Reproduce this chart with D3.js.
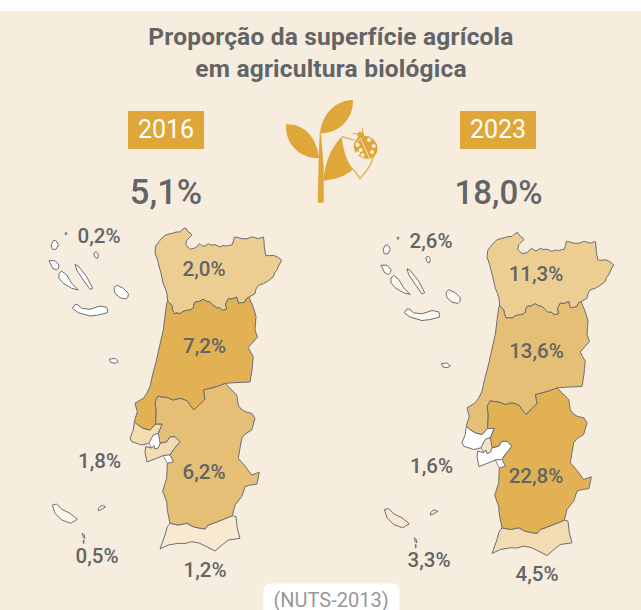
<!DOCTYPE html>
<html>
<head>
<meta charset="utf-8">
<script src="https://cdn.jsdelivr.net/npm/d3@7"></script>
<style>
  html, body { margin: 0; padding: 0; background: #ffffff; }
  svg { display: block; }
  text { font-family: Roboto, sans-serif; }
</style>
</head>
<body>
<div id="chart"></div>
<script>
var titleLines = ["Proporção da superfície agrícola", "em agricultura biológica"];
var years = ["2016", "2023"];
var nationalValues = [5.1, 18.0];
var regionNames = ["Açores", "Madeira", "Algarve", "Lisboa", "Norte", "Alentejo", "Centro"];
var values2016 = [0.2, 0.5, 1.2, 1.8, 2.0, 6.2, 7.2];
var values2023 = [2.6, 3.3, 4.5, 1.6, 11.3, 22.8, 13.6];
var footnote = "(NUTS-2013)";

// one colour per rank inside each map, lowest value first
var palette = ["#ffffff", "#fdf8ef", "#f8e9d0", "#f3dcb2", "#ecce92", "#e5bf76", "#e2b154"];

// Map outlines, in map units. Shared borders are kept
// apart so that neighbouring regions meet exactly.
var borderNorteCentro = [[167.7,301.3],[169.5,303],[171.7,305.3],[172.5,310],[174.3,313.7],[177,313],[180,313.7],[183,311.5],[186.7,310.3],[190,310],[193.3,308],[194,304],[195,302],[199,301.5],[203.3,299.3],[207,301.5],[210,302],[213,305],[216.7,308],[219,307.5],[222.3,310.3],[226.7,309.3],[225.5,304],[228.3,298.7],[232,299],[236.7,297],[238.3,303],[241.5,303],[245,302],[246,299],[249,297]];
var coastNorte = [[255,293.7],[256,289],[258.3,285.3],[263.3,283.7],[268,281],[273.3,277],[274.5,273],[276.7,270.3],[279,265],[281.7,260.3],[277.5,257],[273.3,255.3],[269,255.8],[265.7,255.3],[265,251],[264.3,247],[264,241],[263.3,237],[258.3,238.7],[255,237.5],[251.7,237],[247,238.8],[241.7,238.7],[238,237.5],[234.3,237],[233.5,241],[232.3,244.7],[226.7,246],[223,245.5],[220,247],[215,244.7],[211,245],[208.3,243.7],[205,246],[202.3,246],[200,243.7],[195,248],[190,249.3],[185.7,244.7],[186.7,240.3],[191.7,235.3],[190.5,233],[188.3,232],[185.7,228],[183,229],[180,232],[176,232],[173.3,233],[169,234],[165,235.3],[162,238],[160,240.3],[155.7,246],[155,252.7],[157.7,260.3],[159,266],[160.7,272],[162,278],[163.3,283.7],[165.5,289],[167,293.7]];
var eastCentro = [[250.5,301],[252,304],[254.5,311],[256,316.7],[255.5,323],[255,330],[257.5,337],[253,342],[248.3,347.5],[250.5,352],[253.3,356.7],[252.5,364],[252,370],[250,382],[238,382.5],[225,383.3]];
var borderCentroAlentejo = [[218.3,386],[211,388],[203.3,390],[205,399],[200,404],[194,409.8],[190,405],[187.5,401],[183,399],[180,398.3],[173.3,400],[166.7,397.3],[162,397],[158.3,396],[155,401.7],[156,410],[155.5,424]];
var borderCentroLisboa = [[150,430],[143.3,428.3],[138,425],[134.3,421.7]];
var coastCentro = [[136,416],[137.3,411.7],[136,407],[135,403.3],[143.3,398.3],[147,393],[150,386.7],[153.3,371.7],[155,366],[157,358],[158.3,351.7],[161,340],[163.3,330],[165,316],[166.7,303.3]];
var borderLisboaAlentejo = [[162.3,424],[158.3,433.3],[160,443.3]];
var borderSetubalAlentejo = [[166.7,441.7],[170,436.7],[175,436.7],[180,441.7],[173.3,450],[170,455]];
var eastAlentejo = [[236.7,395],[238.3,405],[241,409],[245,411.7],[252,413.5],[255,418.3],[251.7,430],[245,434],[241.7,438.3],[240,448.3],[238.3,458.3],[245,466],[251.7,475],[259.3,472.3],[258,479],[256.7,484.3],[250,485],[245,486.7],[241.7,496.7],[235,505],[232.3,515.7]];
var borderAlentejoAlgarve = [[221.7,520],[214,523],[208.3,525],[205,529],[199,528],[193.3,526.7],[186.7,523.3],[178.3,525],[170,523.3]];

var shapes = {
  "Norte": [borderNorteCentro.concat(coastNorte)],
  "Centro": [borderNorteCentro.concat(eastCentro, borderCentroAlentejo, borderCentroLisboa, coastCentro)],
  "Alentejo": [[[225,383.3]].concat(borderCentroAlentejo, borderLisboaAlentejo, borderSetubalAlentejo,
    [[173.3,461.7],[167.3,463.3],[167,471],[166.7,478.3],[162.7,491],[166.7,501.7],[167.3,510]],
    borderAlentejoAlgarve.slice().reverse(), [[232.3,515.7]], eastAlentejo.slice().reverse())],
  "Algarve": [borderAlentejoAlgarve.concat([[167.3,526.7],[165,535],[160,549],[168.3,545],[178.3,543.3],[185,543.5],[191.7,541.7],[199,543],[206.7,546.7],[215,551],[222,545],[228.3,540],[240,538.3],[237.3,528.3],[236,516.7],[232.3,515.7]])],
  "Lisboa": [
    [[155.5,424]].concat(borderCentroLisboa, [[133.3,430],[130,438.3],[131.7,441.7],[141.7,445],[149,443.3],[153.3,435],[158.3,433.3],[162.3,424]]),
    [[145.7,446.7],[152,448],[154,445.5],[155,449],[158.3,447.7],[160,443.3]].concat(borderSetubalAlentejo, [[163.3,455.5],[156.7,458.3],[147,462],[145,452]])
  ],
  "Açores": [
    [[65,233],[66.5,232.5],[67,234],[65.5,235]],
    [[51,245],[53.3,240.7],[55.5,240.5],[57,242],[58.3,245],[56,249.3],[52.3,249.3]],
    [[93.7,253.3],[96,251.7],[97.5,253],[98.3,255],[97.7,258.3],[95.3,257.7]],
    [[49,260.7],[55,260.7],[59,265],[58.5,268],[56.7,270],[52.7,268.3]],
    [[59,273.3],[61.7,271],[66.7,275],[71.7,283.3],[78.3,290],[71.7,288.3],[63.3,283.3],[59,278.3]],
    [[75,264.3],[78.3,266],[86.7,276.7],[92.7,288.3],[90,289.3],[83.3,280],[76.7,270]],
    [[114,288.3],[115.5,286],[117.3,285.3],[123.3,288.3],[128.3,293.3],[128,297],[126,299],[120,297.7],[115,293.3]],
    [[72.3,308.3],[75,304.3],[78,305],[81.7,308.3],[90,309.3],[100,306],[106.7,307.3],[107.5,310],[107.3,312.7],[98.3,315],[90,316],[78.3,312.7]],
    [[109.3,359.3],[115,358.3],[118.3,361.7],[115,363.3],[110.7,362.3]]
  ],
  "Madeira": [
    [[52.3,505],[56.7,504],[61.7,509.3],[70,513.3],[77.3,519.3],[70.7,523.3],[61.7,520],[55,513.3]],
    [[98.3,508.3],[101.7,505.3],[105.7,506.7],[101.7,509.3],[98.7,510.7]],
    [[82.3,533.3],[84.3,535],[85,538.3],[83.3,537.3]],
    [[83.3,540],[84,540],[84,543.3],[83.3,543.3]]
  ]
};

// water inside the Lisboa region: the Tejo fill changes from map to map, the Sado does not
var tejoOutline = [[153.3,435],[158.3,433.3],[160,443.3],[158.3,447.7],[155,449],[154,445.5],[152,448],[149,443.3]];
var sadoOutline = [[163.3,455.5],[170,455],[173.3,461.7],[167.3,463.3]];
var tejoFill = ["#ffffff", "#f3e3c8"];
var sadoFill = ["#ffffff", "#ffffff"];

// where each value label sits, in the same map units
var labelSpots = [[99,243.3],[97,562.7],[205,576.7],[99.5,468.3],[204,276],[204,478.7],[204.5,353.3]];

var width = 641;
var height = 610;
var inkColor = "#636466";
var goldColor = "#dfa73a";
var panelOffsets = [[0, 0], [332, 4.5]];
var panelCenters = [166, 498];

var formatPct = d3.formatLocale({ decimal: ",", thousands: ".", grouping: [3], currency: ["", ""] }).format(".1f");

var svg = d3.select("#chart").append("svg")
    .attr("width", width)
    .attr("height", height);

svg.append("rect")
    .attr("x", 0)
    .attr("y", 11)
    .attr("width", width)
    .attr("height", height - 11)
    .attr("fill", "#f6eddf");

svg.selectAll(".title")
    .data(titleLines)
    .enter()
    .append("text")
    .attr("class", "title")
    .attr("x", 331)
    .attr("y", (d, i) => 45 + i * 32)
    .attr("text-anchor", "middle")
    .attr("font-size", 24.5)
    .attr("font-weight", 700)
    .attr("letter-spacing", 0.2)
    .attr("fill", inkColor)
    .text(d => d);

function feature(name, rings) {
    return {
        type: "Feature",
        properties: { name: name },
        geometry: { type: "MultiPolygon", coordinates: rings.map(r => [r.concat([r[0]])]) }
    };
}

function drawPanel(i, values) {
    var g = svg.append("g").attr("class", "panel-" + years[i]);
    var cx = panelCenters[i];

    g.append("rect")
        .attr("x", cx - 38)
        .attr("y", 111)
        .attr("width", 76)
        .attr("height", 38)
        .attr("fill", goldColor);
    g.append("text")
        .attr("x", cx)
        .attr("y", 138)
        .attr("text-anchor", "middle")
        .attr("font-size", 25)
        .attr("font-weight", 400)
        .attr("fill", "#ffffff")
        .text(years[i]);
    g.append("text")
        .attr("x", cx + (i ? 0.5 : 0))
        .attr("y", 204)
        .attr("text-anchor", "middle")
        .attr("font-size", i ? 33 : 34.5)
        .attr("font-weight", 500)
        .attr("fill", inkColor)
        .text(formatPct(nationalValues[i]) + "%");

    var projection = d3.geoIdentity().translate(panelOffsets[i]);
    var path = d3.geoPath(projection);

    var color = d3.scaleOrdinal()
        .domain(d3.sort(values))
        .range(palette);

    var rows = regionNames.map((name, k) => ({ name: name, value: values[k], spot: labelSpots[k] }));

    g.selectAll(".region")
        .data(rows)
        .enter()
        .append("path")
        .attr("class", "region")
        .attr("d", d => path(feature(d.name, shapes[d.name])))
        .attr("fill", d => color(d.value))
        .attr("stroke", "#6d6e71")
        .attr("stroke-width", 1)
        .attr("stroke-linejoin", "round");

    g.selectAll(".water")
        .data([[tejoOutline, tejoFill[i]], [sadoOutline, sadoFill[i]]])
        .enter()
        .append("path")
        .attr("class", "water")
        .attr("d", d => path(feature("water", [d[0]])))
        .attr("fill", d => d[1])
        .attr("stroke", "#6d6e71")
        .attr("stroke-width", 0.8);

    g.selectAll(".value")
        .data(rows)
        .enter()
        .append("text")
        .attr("class", "value")
        .attr("x", d => projection(d.spot)[0])
        .attr("y", d => projection(d.spot)[1])
        .attr("text-anchor", "middle")
        .attr("font-size", 20.5)
        .attr("font-weight", 500)
        .attr("fill", inkColor)
        .text(d => formatPct(d.value) + "%");
}

drawPanel(0, values2016);
drawPanel(1, values2023);

// plant and ladybird, drawn at 3x and scaled down
var icon = svg.append("g")
    .attr("transform", "translate(270,90) scale(0.3333)")
    .attr("fill", goldColor);
icon.append("path").attr("d", "M143,338 L161,338 L161,230 L153,130 L149,130 L146,210 Z");
icon.append("path").attr("d", "M48,103 C100,100 140,140 147,205 C90,205 45,165 48,103 Z");
icon.append("path").attr("d", "M150,130 C155,70 200,30 249,30 C250,90 205,130 150,130 Z");
icon.append("path").attr("d", "M160,272 C165,215 185,170 215,140 C220,180 230,215 250,238 C225,260 190,270 160,272 Z");
icon.append("path")
    .attr("d", "M215,140 L252,150 M250,238 L270,266 C290,245 305,225 311,198")
    .attr("fill", "none")
    .attr("stroke", goldColor)
    .attr("stroke-width", 3.5);
icon.append("ellipse")
    .attr("cx", 287)
    .attr("cy", 172)
    .attr("rx", 37)
    .attr("ry", 33)
    .attr("transform", "rotate(35 287 172)");
icon.append("circle").attr("cx", 272).attr("cy", 135).attr("r", 10);
icon.append("path")
    .attr("d", "M265,132 L248,130 M278,128 L278,114")
    .attr("fill", "none")
    .attr("stroke", goldColor)
    .attr("stroke-width", 3);
icon.selectAll(".spot")
    .data([[263,165],[272,180],[264,190],[278,195],[297,150],[311,168],[306,186]])
    .enter()
    .append("circle")
    .attr("class", "spot")
    .attr("cx", d => d[0])
    .attr("cy", d => d[1])
    .attr("r", 6)
    .attr("fill", "#f6eddf");
icon.append("path")
    .attr("d", "M272,145 L298,204 M272,145 L256,162")
    .attr("fill", "none")
    .attr("stroke", "#f6eddf")
    .attr("stroke-width", 2.5);

// footnote tab, cut off by the bottom of the picture
svg.append("rect")
    .attr("x", 263.5)
    .attr("y", 583.5)
    .attr("width", 136)
    .attr("height", 40)
    .attr("rx", 7)
    .attr("fill", "#ffffff");
svg.append("text")
    .attr("x", 331)
    .attr("y", 606.5)
    .attr("text-anchor", "middle")
    .attr("font-size", 20)
    .attr("font-weight", 400)
    .attr("fill", "#97989a")
    .text(footnote);
</script>
</body>
</html>
